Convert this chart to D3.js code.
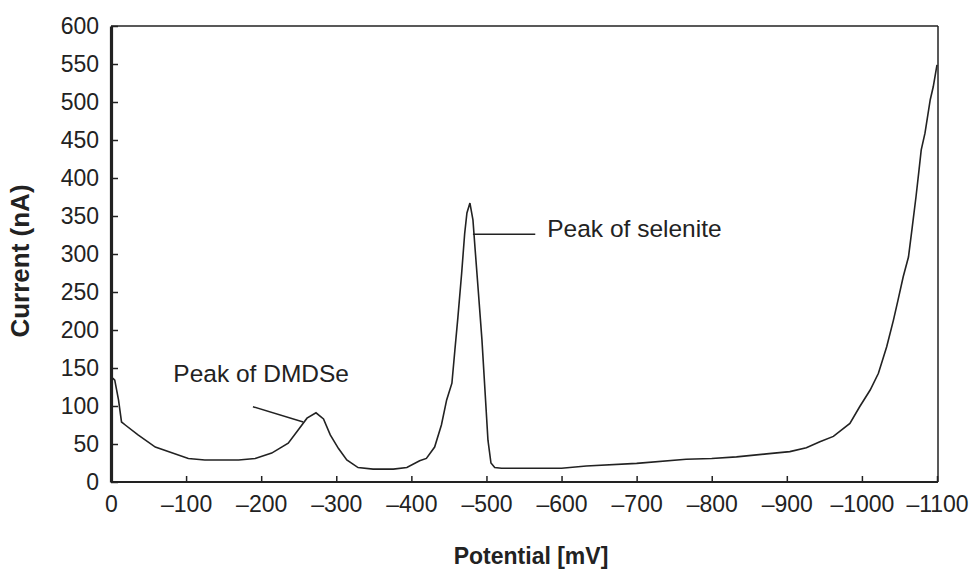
<!DOCTYPE html>
<html>
<head>
<meta charset="utf-8">
<script src="https://cdn.jsdelivr.net/npm/d3@7"></script>
<style>
  html, body { margin: 0; padding: 0; background: #fff; }
  svg { display: block; font-family: "Liberation Sans", Arial, sans-serif; }
</style>
</head>
<body>
<svg id="chart" width="976" height="569"></svg>
<script>
// ---- data ----
const potential = [0, -3, -5, -10, -14, -19, -36, -59, -81, -103, -125, -170, -192, -214, -236, -249, -261, -273, -283, -292, -303, -314, -329, -349, -376, -394, -411, -420, -431, -440, -447, -454, -458, -462, -467, -471, -474, -478, -482, -485, -489, -494, -498, -502, -506, -511, -520, -600, -633, -700, -766, -800, -833, -873, -904, -926, -944, -962, -984, -997, -1011, -1022, -1033, -1042, -1048, -1055, -1062, -1067, -1072, -1076, -1079, -1084, -1091, -1095, -1100];
const current = [138, 136, 134, 108, 79, 75, 62, 46, 38.5, 31, 29, 29, 31, 38, 51, 68, 84, 91, 83, 62, 44, 29, 19, 17, 17, 19, 28, 31, 46, 75, 108, 130, 174, 217, 275, 327, 354, 367, 345, 305, 253, 187, 121, 55, 25, 19, 18, 18, 21, 24.5, 30, 31, 33, 37, 40, 45, 53, 60, 77, 99, 121, 143, 178, 213, 239, 270, 296, 335, 375, 410, 437, 459, 503, 520, 549];
const xTicks = [0, -100, -200, -300, -400, -500, -600, -700, -800, -900, -1000, -1100];
const yTicks = [0, 50, 100, 150, 200, 250, 300, 350, 400, 450, 500, 550, 600];
const annotations = [
  { text: "Peak of DMDSe", tx: -83, ty: 132, x1: -189, y1: 99, x2: -256, y2: 79 },
  { text: "Peak of selenite", tx: -581, ty: 322, x1: -482, y1: 326, x2: -565, y2: 326 }
];

// ---- layout ----
const W = 976, H = 569;
const m = { left: 111, right: 38, top: 26, bottom: 87 };
const svg = d3.select("#chart");
const x = d3.scaleLinear().domain([0, -1100]).range([m.left, 937]);
const y = d3.scaleLinear().domain([0, 600]).range([H - m.bottom, m.top]);
const ink = "#222";

// frame (top/right)
svg.append("line").attr("x1", m.left).attr("x2", 938).attr("y1", m.top).attr("y2", m.top)
  .attr("stroke", ink).attr("stroke-width", 1.5);
svg.append("line").attr("x1", 938).attr("x2", 938).attr("y1", m.top).attr("y2", H - m.bottom)
  .attr("stroke", ink).attr("stroke-width", 1.5);

// x axis
const fmt = d => d === 0 ? "0" : "\u2013" + Math.abs(d);
const xAxis = svg.append("g").attr("transform", `translate(0,${H - m.bottom})`)
  .call(d3.axisBottom(x).tickValues(xTicks).tickFormat(fmt).tickSizeInner(-6).tickSizeOuter(0).tickPadding(14));
xAxis.select(".domain").attr("stroke", ink).attr("stroke-width", 2).attr("d", `M${m.left},0H938`);
xAxis.selectAll(".tick line").attr("stroke", ink).attr("stroke-width", 1.5);
xAxis.selectAll(".tick text").attr("fill", ink).style("font-size", "23px").style("font-family", "Liberation Sans, Arial, sans-serif");

// y axis
const yAxis = svg.append("g").attr("transform", `translate(${m.left},0)`)
  .call(d3.axisLeft(y).tickValues(yTicks).tickSizeInner(-7).tickSizeOuter(0).tickPadding(12));
yAxis.select(".domain").attr("stroke", ink).attr("stroke-width", 3.2);
yAxis.selectAll(".tick line").attr("stroke", ink).attr("stroke-width", 1.5);
yAxis.selectAll(".tick text").attr("fill", ink).style("font-size", "23px").style("font-family", "Liberation Sans, Arial, sans-serif");

// curve
const pts = potential.map((p, i) => [p, current[i]]);
svg.append("path").datum(pts)
  .attr("fill", "none").attr("stroke", ink).attr("stroke-width", 1.6)
  .attr("d", d3.line().x(d => x(d[0])).y(d => y(d[1])));

// annotations
annotations.forEach(a => {
  svg.append("line").attr("x1", x(a.x1)).attr("y1", y(a.y1)).attr("x2", x(a.x2)).attr("y2", y(a.y2))
    .attr("stroke", ink).attr("stroke-width", 1.4);
  svg.append("text").attr("x", x(a.tx)).attr("y", y(a.ty)).attr("fill", ink)
    .style("font-size", "24.5px").text(a.text);
});

// axis titles
svg.append("text").attr("x", 531).attr("y", 564).attr("text-anchor", "middle")
  .attr("fill", ink).style("font-size", "23px").style("font-weight", "bold").text("Potential [mV]");
svg.append("text").attr("transform", "translate(29,261) rotate(-90)").attr("text-anchor", "middle")
  .attr("fill", ink).style("font-size", "26px").style("font-weight", "bold").text("Current (nA)");
</script>
</body>
</html>
